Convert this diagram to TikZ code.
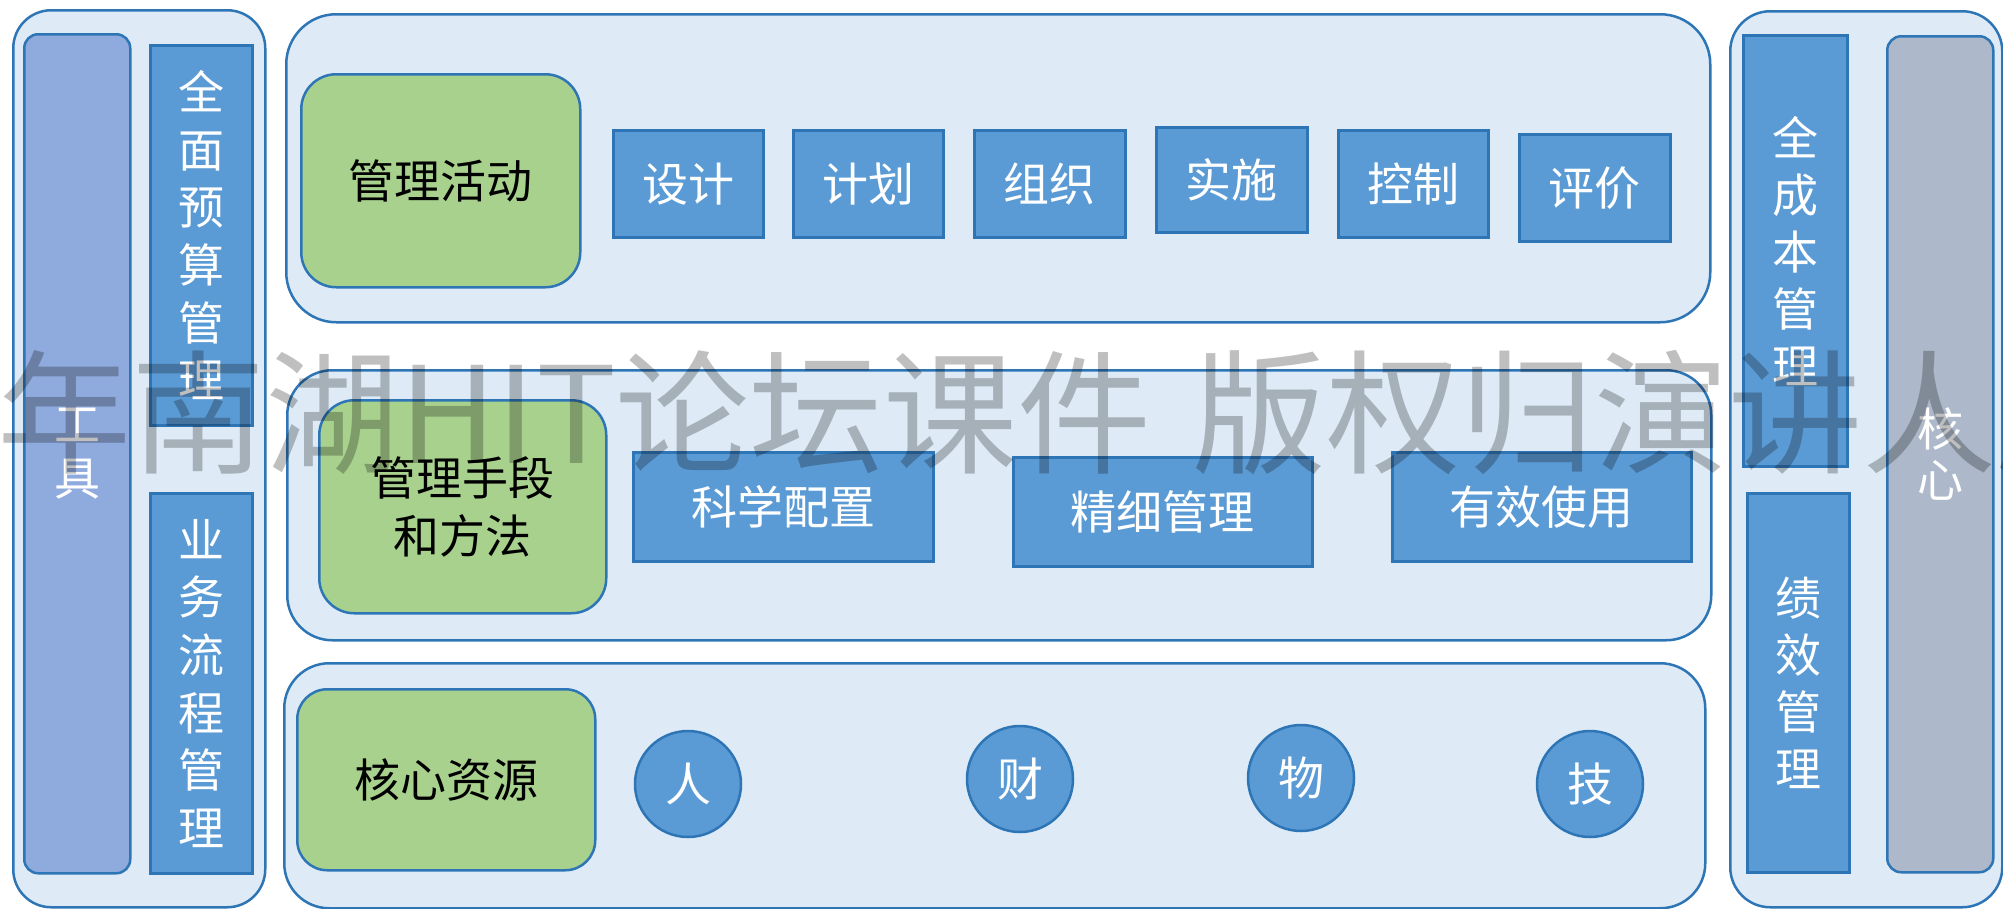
\documentclass[tikz,border=0pt]{standalone}
\usepackage{fontspec}
\setmainfont{Noto Sans CJK SC}
\definecolor{bdr}{HTML}{2E75B6}
\definecolor{panelfill}{HTML}{DEEBF7}
\definecolor{bluefill}{HTML}{5B9BD5}
\definecolor{greenfill}{HTML}{A9D18E}
\definecolor{toolfill}{HTML}{8FAADC}
\definecolor{corefill}{HTML}{ADB9CA}
\tikzset{
  base/.style={draw=bdr, line width=2.5pt, anchor=north west, inner sep=0pt, align=center},
  panel/.style={base, fill=panelfill, rounded corners=#1},
  bluebox/.style={base, fill=bluefill, text=white, font=\fontsize{46}{57.6}\selectfont},
  greenbox/.style={base, fill=greenfill, text=black, rounded corners=#1, font=\fontsize{46}{58}\selectfont},
  bar/.style={base, rounded corners=14pt, text=white},
  dot/.style={circle, draw=bdr, line width=2.5pt, fill=bluefill, text=white, minimum size=106pt, inner sep=0pt, font=\fontsize{46}{50}\selectfont},
  wmark/.style={text=black, opacity=0.25, font=\fontsize{134}{136}\selectfont, anchor=base west, inner sep=0pt}
}
\begin{document}
\begin{tikzpicture}[x=1pt, y=-1pt]
\useasboundingbox (0,0) rectangle (2003,908);
\clip (0,0) rectangle (2003,908);
% left column
\node[panel=38pt, minimum width=252pt, minimum height=897pt] (left) at (12,9) {};
\node[bar, fill=toolfill, minimum width=106pt, minimum height=839pt, font=\fontsize{46}{54}\selectfont] (tool) at (23,33) {工\\具};
\node[bluebox, minimum width=102pt, minimum height=380pt] (budget) at (149,44) {全\\面\\预\\算\\管\\理};
\node[bluebox, minimum width=102pt, minimum height=380pt] (process) at (149,492) {业\\务\\流\\程\\管\\理};
% top panel
\node[panel=50pt, minimum width=1424pt, minimum height=308pt] (top) at (285,13) {};
\node[greenbox=35pt, minimum width=279pt, minimum height=213pt] (act) at (300,73) {管理活动};
\node[bluebox, minimum width=150pt, minimum height=107pt] (design) at (612,129) {设计};
\node[bluebox, minimum width=150pt, minimum height=107pt] (plan) at (792,129) {计划};
\node[bluebox, minimum width=151pt, minimum height=107pt] (org) at (973,129) {组织};
\node[bluebox, minimum width=151pt, minimum height=105pt] (impl) at (1155,126) {实施};
\node[bluebox, minimum width=150pt, minimum height=107pt] (ctrl) at (1337,129) {控制};
\node[bluebox, minimum width=151pt, minimum height=107pt] (eval) at (1518,133) {评价};
% middle panel
\node[panel=45pt, minimum width=1424pt, minimum height=270pt] (mid) at (286,369) {};
\node[greenbox=35pt, minimum width=287pt, minimum height=213pt] (means) at (318,399) {管理手段\\和方法};
\node[bluebox, minimum width=300pt, minimum height=109pt] (sci) at (632,451) {科学配置};
\node[bluebox, minimum width=299pt, minimum height=109pt] (fine) at (1012,456) {精细管理};
\node[bluebox, minimum width=299pt, minimum height=109pt] (use) at (1391,451) {有效使用};
% bottom panel
\node[panel=45pt, minimum width=1421pt, minimum height=245pt] (bot) at (283,662) {};
\node[greenbox=30pt, minimum width=298pt, minimum height=181pt] (res) at (296,688) {核心资源};
\node[dot] (ren) at (688,784) {人};
\node[dot] (cai) at (1020,779) {财};
\node[dot] (wu) at (1301,778) {物};
\node[dot] (ji) at (1590,784) {技};
% right column
\node[panel=40pt, minimum width=272pt, minimum height=896pt] (right) at (1729,10) {};
\node[bluebox, minimum width=104pt, minimum height=431pt, font=\fontsize{46}{57}\selectfont] (cost) at (1742,34) {全\\成\\本\\管\\理};
\node[bluebox, minimum width=102pt, minimum height=379pt, font=\fontsize{46}{57}\selectfont] (perf) at (1746,492) {绩\\效\\管\\理};
\node[bar, fill=corefill, minimum width=106pt, minimum height=836pt, font=\fontsize{46}{51}\selectfont] (core) at (1886,35) {核\\心};
% watermark
\node[wmark] (wm1) at (-3,463) {年南湖HIT};
\node[wmark] (wm2) at (615,463) {论坛课件};
\node[wmark] (wm3) at (1192,463) {版权归演讲人所};
\end{tikzpicture}
\end{document}
